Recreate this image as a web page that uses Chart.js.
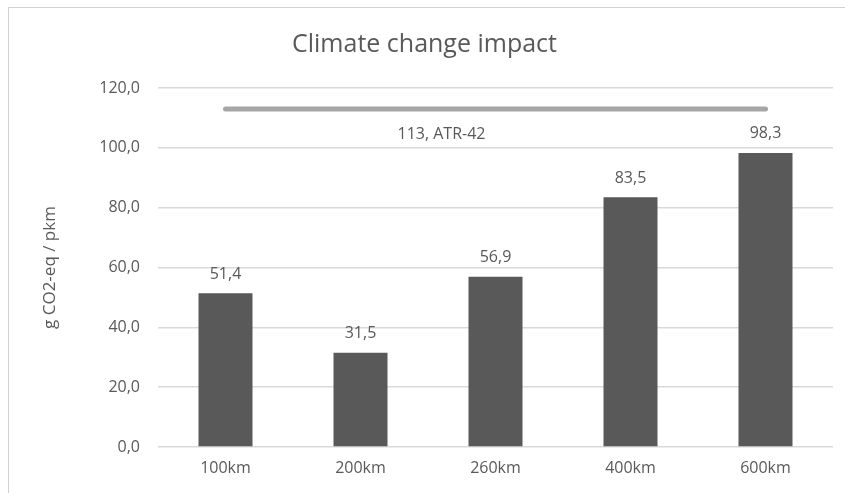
<!DOCTYPE html>
<html>
<head>
<meta charset="utf-8">
<style>
  html, body { margin: 0; padding: 0; background: #ffffff; overflow: hidden; }
  #wrap { position: relative; width: 845px; height: 493px; }
  #frame { position: absolute; left: 8px; top: 7px; width: 900px; height: 600px;
           border-left: 1px solid #d0d0d0; border-top: 1px solid #d0d0d0; pointer-events: none; }
  canvas { position: absolute; left: 0; top: 0; }
</style>
<script src="https://cdn.jsdelivr.net/npm/chart.js@4/dist/chart.umd.min.js"></script>
</head>
<body>
<div id="wrap">
  <canvas id="chart" width="845" height="493"></canvas>
  <div id="frame"></div>
</div>
<script>
const categories = ['100km', '200km', '260km', '400km', '600km'];
const impactValues = [51.4, 31.5, 56.9, 83.5, 98.3];
const referenceValue = 113;
const referenceName = 'ATR-42';
const yTicks = [0, 20, 40, 60, 80, 100, 120];

const TEXT = '#595959';
const FONT = "'Open Sans', 'DejaVu Sans', sans-serif";

const fmt = v => v.toFixed(1).replace('.', ',');

// Value labels above the bars and the reference line caption
const labelPlugin = {
  id: 'valueLabels',
  afterDatasetsDraw(chart) {
    const ctx = chart.ctx;
    ctx.save();
    ctx.fillStyle = TEXT;
    ctx.font = '16px ' + FONT;
    ctx.textAlign = 'center';
    ctx.textBaseline = 'middle';
    const bars = chart.getDatasetMeta(0).data;
    bars.forEach((bar, i) => {
      ctx.fillText(fmt(impactValues[i]), bar.x, bar.y - 19);
    });
    const line = chart.getDatasetMeta(1).data;
    const y = chart.scales.y.getPixelForValue(referenceValue);
    const xCap = line[1].x + 0.6 * (line[2].x - line[1].x);
    ctx.fillText(referenceValue + ', ' + referenceName, xCap, y + 25);
    ctx.restore();
  }
};

new Chart(document.getElementById('chart'), {
  data: {
    labels: categories,
    datasets: [
      {
        type: 'bar',
        data: impactValues,
        backgroundColor: '#595959',
        barPercentage: 0.4,
        categoryPercentage: 1.0,
        order: 2
      },
      {
        type: 'line',
        data: categories.map(() => referenceValue),
        borderColor: '#a6a6a6',
        borderWidth: 5,
        borderCapStyle: 'round',
        pointRadius: 0,
        order: 1
      }
    ]
  },
  options: {
    responsive: false,
    animation: false,
    layout: { padding: { left: 16, right: 12, top: 0, bottom: 0 } },
    plugins: {
      legend: { display: false },
      tooltip: { enabled: false },
      title: {
        display: true,
        text: 'Climate change impact',
        color: TEXT,
        font: { family: FONT, size: 25, weight: 'normal' },
        padding: { top: 30, bottom: 28 }
      }
    },
    scales: {
      x: {
        grid: { display: false, drawTicks: false },
        border: { display: false },
        ticks: { color: TEXT, font: { family: FONT, size: 16 }, padding: 12 },
        afterFit(scale) { scale.height = 46; }
      },
      y: {
        min: 0,
        max: 120,
        afterBuildTicks(scale) { scale.ticks = yTicks.map(v => ({ value: v })); },
        grid: { color: '#d9d9d9', lineWidth: 1.5, drawTicks: false },
        border: { display: false },
        ticks: {
          color: TEXT,
          font: { family: FONT, size: 16 },
          padding: 18,
          callback: v => fmt(v)
        },
        title: {
          display: true,
          text: 'g CO2-eq / pkm',
          color: TEXT,
          font: { family: FONT, size: 17 },
          padding: { top: 24, bottom: 0 }
        },
        afterFit(scale) { scale.width = 142; }
      }
    }
  },
  plugins: [labelPlugin]
});
</script>
</body>
</html>
